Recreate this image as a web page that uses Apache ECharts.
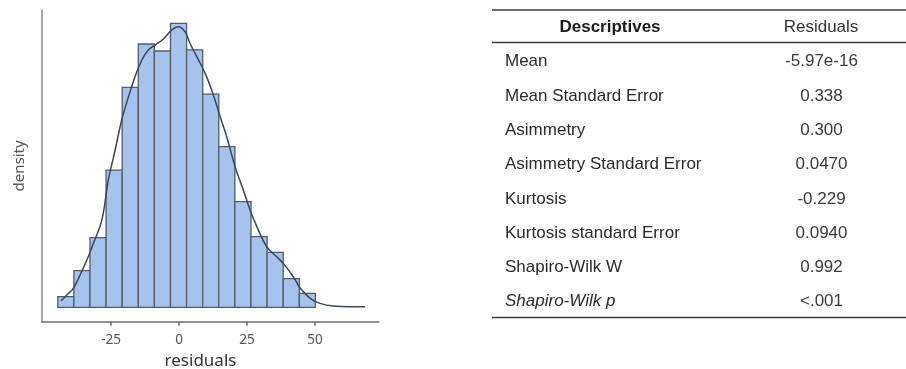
<!DOCTYPE html>
<html>
<head>
<meta charset="utf-8">
<script src="https://cdn.jsdelivr.net/npm/echarts@6/dist/echarts.min.js"></script>
<style>
  html, body { margin: 0; padding: 0; background: #fff; }
  #main { width: 906px; height: 369px; }
</style>
</head>
<body>
<div id="main"></div>
<script>
// histogram of residuals (bin edges + density per bin)
var binEdges = [-44.6, -38.68, -32.76, -26.84, -20.92, -15.0, -9.08, -3.16, 2.76, 8.68, 14.6, 20.52, 26.44, 32.36, 38.28, 44.2, 50.12];
var binDensity = [0.00083, 0.00284, 0.00539, 0.01062, 0.01702, 0.02037, 0.01983, 0.02197, 0.01991, 0.01650, 0.01243, 0.00818, 0.00547, 0.00426, 0.00222, 0.00108];

// density curve
var curveX = [-43.4, -41.3, -38.9, -36.4, -33.9, -31.5, -28.4, -26.0, -23.5, -21.1, -18.6, -16.2, -13.7, -11.3, -8.8, -5.8, -2.7, -0.3, 2.2, 4.0, 6.5, 9.6, 12.6, 15.1, 17.5, 20.6, 23.6, 26.1, 28.6, 32.2, 35.9, 38.3, 42.0, 44.5, 48.2, 51.8, 56.7, 62.9, 68.4];
var curveY = [0.00049, 0.00095, 0.00147, 0.00250, 0.00366, 0.00495, 0.00675, 0.00985, 0.01217, 0.01449, 0.01629, 0.01784, 0.01913, 0.01991, 0.02029, 0.02076, 0.02145, 0.02171, 0.02132, 0.02043, 0.01939, 0.01810, 0.01643, 0.01475, 0.01320, 0.01088, 0.00908, 0.00753, 0.00624, 0.00469, 0.00391, 0.00340, 0.00237, 0.00149, 0.00070, 0.00031, 0.00010, 0.00005, 0.00005];

var xTicks = [-25, 0, 25, 50];

// descriptives table
var tableHead = ['Descriptives', 'Residuals'];
var statNames = ['Mean', 'Mean Standard Error', 'Asimmetry', 'Asimmetry Standard Error', 'Kurtosis', 'Kurtosis standard Error', 'Shapiro-Wilk W', 'Shapiro-Wilk p'];
var statValues = ['-5.97e-16', '0.338', '0.300', '0.0470', '-0.229', '0.0940', '0.992', '<.001'];

var histData = [];
for (var i = 0; i < binDensity.length; i++) {
    histData.push([binEdges[i], binEdges[i + 1], binDensity[i]]);
}
var curveData = [];
for (var i = 0; i < curveX.length; i++) {
    curveData.push([curveX[i], curveY[i]]);
}

// table drawn as graphic text
var tblFont = '"Liberation Sans", Arial, sans-serif';
var graphics = [];
var rule = function (y) {
    return {
        type: 'line', silent: true,
        shape: { x1: 492, y1: y, x2: 906, y2: y },
        style: { stroke: '#3a3a3a', lineWidth: 1.5 }
    };
};
graphics.push(rule(10), rule(42.5), rule(317.5));
graphics.push({
    type: 'text', x: 610, y: 27.5,
    style: { text: tableHead[0], font: 'bold 17px ' + tblFont, fill: '#1a1a1a', align: 'center', verticalAlign: 'middle' }
});
graphics.push({
    type: 'text', x: 821, y: 27.5,
    style: { text: tableHead[1], font: '17px ' + tblFont, fill: '#333', align: 'center', verticalAlign: 'middle' }
});
for (var i = 0; i < statNames.length; i++) {
    var y = 61.7 + i * 34.29;
    var italic = statNames[i] === 'Shapiro-Wilk p' ? 'italic ' : '';
    graphics.push({
        type: 'text', x: 505, y: y,
        style: { text: statNames[i], font: italic + '17px ' + tblFont, fill: '#2a2a2a', align: 'left', verticalAlign: 'middle' }
    });
    graphics.push({
        type: 'text', x: 821.5, y: y,
        style: { text: statValues[i], font: '17px ' + tblFont, fill: '#3a3a3a', align: 'center', verticalAlign: 'middle' }
    });
}

var option = {
    animation: false,
    grid: {
        left: 42,
        right: 527,
        top: 10,
        bottom: 47.3,
        containLabel: false,
        outerBoundsMode: 'none'
    },
    xAxis: {
        type: 'value',
        min: -50.4,
        max: 73.5,
        name: 'residuals',
        nameLocation: 'middle',
        nameGap: 31,
        nameTextStyle: {
            fontFamily: 'Noto Sans',
            fontSize: 17,
            color: '#333',
            padding: [0, 20, 0, 0]
        },
        axisLine: { onZero: false, lineStyle: { color: '#6e6e6e', width: 1.5 } },
        axisTick: { show: true, length: 4, customValues: xTicks, lineStyle: { color: '#6e6e6e', width: 1.5 } },
        axisLabel: {
            customValues: xTicks,
            margin: 11,
            fontFamily: 'Noto Sans',
            fontSize: 13.5,
            color: '#555'
        },
        splitLine: { show: false }
    },
    yAxis: {
        type: 'value',
        min: -0.00111,
        max: 0.0230,
        name: 'density',
        nameLocation: 'middle',
        nameGap: 15,
        nameTextStyle: {
            fontFamily: 'Noto Sans',
            fontSize: 15,
            color: '#555'
        },
        axisLine: { show: true, onZero: false, lineStyle: { color: '#8a8a8a', width: 1.5 } },
        axisTick: { show: false },
        axisLabel: { show: false },
        splitLine: { show: false }
    },
    series: [
        {
            type: 'custom',
            data: histData,
            encode: { x: [0, 1], y: 2 },
            renderItem: function (params, api) {
                var p0 = api.coord([api.value(0), 0]);
                var p1 = api.coord([api.value(1), api.value(2)]);
                return {
                    type: 'rect',
                    shape: { x: p0[0], y: p1[1], width: p1[0] - p0[0], height: p0[1] - p1[1] },
                    style: { fill: '#a6c3ee', stroke: '#505c6c', lineWidth: 1.3 }
                };
            },
            z: 2
        },
        {
            type: 'line',
            data: curveData,
            smooth: 0.4,
            showSymbol: false,
            lineStyle: { color: '#3b4656', width: 1.5 },
            z: 3
        }
    ],
    graphic: graphics
};

var myChart = echarts.init(document.getElementById('main'));
myChart.setOption(option);
</script>
</body>
</html>
